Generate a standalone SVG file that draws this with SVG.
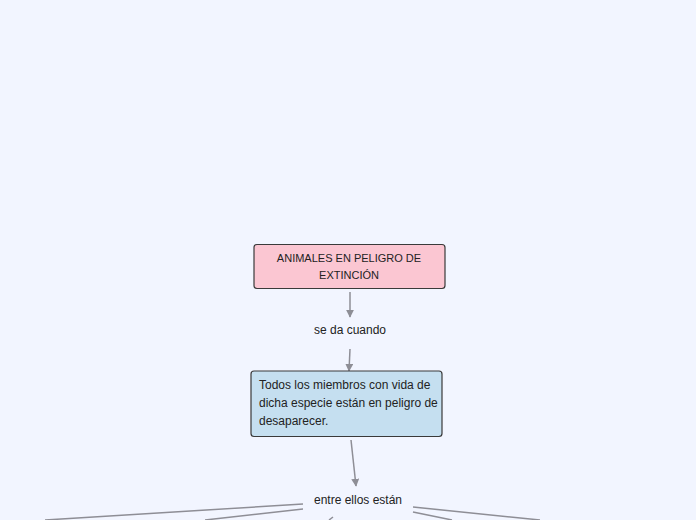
<svg xmlns="http://www.w3.org/2000/svg" width="696" height="520" viewBox="0 0 696 520">
<style>
.box{stroke:#3a3a3a;stroke-width:1.2}
.t{font-family:"Liberation Sans",Arial,sans-serif;fill:#222}
.conn{stroke:#8e8e96;stroke-width:1.5;fill:none}
</style>
<defs>
<marker id="ah" viewBox="0 0 10 10" refX="9" refY="5" markerWidth="8" markerHeight="8" markerUnits="userSpaceOnUse" orient="auto">
<path d="M0,0 L10,5 L0,10 z" fill="#8e8e96"/>
</marker>
</defs>
<rect width="696" height="520" fill="#f2f5ff"/>
<g id="connectors">
<path class="conn" d="M350,292 L350,317" marker-end="url(#ah)"/>
<path class="conn" d="M350,349 L349,371" marker-end="url(#ah)"/>
<path class="conn" d="M351,440 L356,486" marker-end="url(#ah)"/>
<path class="conn" d="M303,504 L45,520"/>
<path class="conn" d="M303,509 L205,520"/>
<path class="conn" d="M333,517 L329,520"/>
<path class="conn" d="M413,507 L540,520"/>
<path class="conn" d="M413,512 L452,520"/>
</g>
<g id="n1">
<rect class="box" x="254" y="244.5" width="191" height="44" rx="3" fill="#fbc6d2"/>
<text class="t" x="349" y="262" font-size="11" text-anchor="middle">ANIMALES EN PELIGRO DE</text>
<text class="t" x="349" y="279" font-size="11" text-anchor="middle">EXTINCIÓN</text>
</g>
<g id="n2">
<text class="t" x="350" y="334" font-size="12" text-anchor="middle">se da cuando</text>
</g>
<g id="n3">
<rect class="box" x="251" y="371" width="191" height="65.5" rx="3" fill="#c5dff0"/>
<text class="t" x="259" y="389" font-size="12">Todos los miembros con vida de</text>
<text class="t" x="259" y="407" font-size="12">dicha especie están en peligro de</text>
<text class="t" x="259" y="425" font-size="12">desaparecer.</text>
</g>
<g id="n4">
<text class="t" x="358" y="504" font-size="12" text-anchor="middle">entre ellos están</text>
</g>
</svg>
